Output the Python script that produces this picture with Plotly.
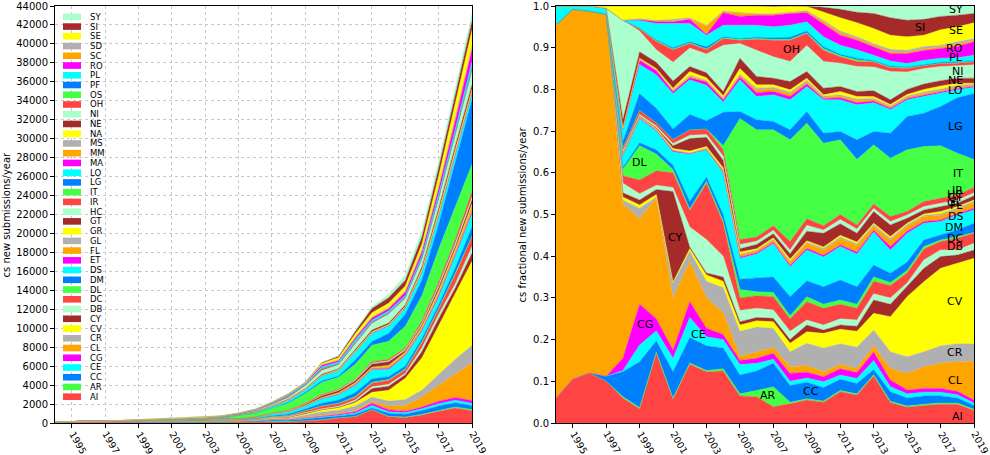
import numpy as np
import plotly.graph_objects as go

YEARS = list(range(1994, 2020))
TOTAL = [120, 180, 190, 200, 280, 350, 400, 440, 520, 600, 750, 1050, 1450, 2200,
         3100, 4300, 6400, 7100, 9800, 12300, 13600, 15600, 20300, 27600, 35400, 43200]

CATEGORIES = ["AI", "AR", "CC", "CE", "CG", "CL", "CR", "CV", "CY", "DB", "DC", "DL", "DM", "DS",
              "ET", "FL", "GL", "GR", "GT", "HC", "IR", "IT", "LG", "LO", "MA", "MM", "MS", "NA",
              "NE", "NI", "OH", "OS", "PF", "PL", "RO", "SC", "SD", "SE", "SI", "SY"]

# share of each year's submissions, percent (1994 ... 2019)
AI = [6, 10.5, 12, 10, 6, 3.4, 16.7, 5.7, 14.1, 12.3, 12.5, 6.5, 6.3, 3.9, 4.6, 5.5, 5, 7.5, 6.7, 11.3, 4.9, 3.8, 4.2, 4.5, 4.5, 3]
AR = [0, 0, 0, 0, .3, .3, .3, .3, .3, .3, .5, .5, 1.5, 4.8, .4, .3, .3, .3, .3, .3, .3, .3, .3, .3, .3, .3]
CC = [0, 0, 0, 1.2, 6, 11, 2.7, 6.3, 6.1, 5.9, 5, 4.5, 4.7, 5.6, 4, 4, 3.2, 2.7, 2.5, 1.2, 2.3, 1.9, 2, 1.7, 1.2, .9]
CE = [0, 0, 0, 0, .3, 4, 2.4, 3.2, 4.8, 2.2, 2, 2.5, 1.8, 1, 1, 1, 1.4, 1, 1.2, 2.2, 1.2, 1, .9, .9, .8, .6]
CG = [0, 0, 0, 0, 2.9, 9.8, 2.9, 2, 3.8, 2, 1.2, 1, 1.2, 1.4, 1.9, 1.4, 1.2, 1.5, 1.4, 2, 1.6, .9, .9, .9, .8, .7]
CL = [89.5, 88.7, 86.8, 86.8, 37, 20.5, 29, 12.5, 9.6, 7.3, 5.3, 1, 1.5, 1.4, 1.6, 1.5, 1.2, 1, 1, 1.5, 2.8, 4, 5.2, 6, 7.1, 9.2]
CR = [0, 0, 0, 0, 1, 2.5, .2, 3.5, 2.5, 4, 6, 6, 6, 4.6, 3.6, 5.4, 5.7, 5, 5.1, 3.8, 4, 4, 3.6, 4.2, 4.3, 4.3]
CV = [0, 0, 0, 0, .7, .8, .6, .3, .6, 1.5, 1.5, 1.5, 1.5, 1.6, 2, 2.8, 3.5, 3.5, 3.8, 4, 8.4, 14.4, 16.8, 18.6, 19.3, 20.5]
CY = [0, 0, 0, 0, 1, 1.2, 1.2, 21.7, .4, .5, 1, .8, .8, .8, .9, 1.6, .8, 1, 1.2, 3.2, 3, 2.4, 3.2, 2.8, 2, 2]
DB = [0, 0, 0, 0, 2.3, 1.5, 1, 1, 4.8, 8, 5, 2.7, 2.2, 2, 2, 1.2, 1.2, 1.5, 1.5, 1.5, 1.5, .9, 2, 1.6, 1.2, 1.6]
DC = [0, 0, 0, 0, 1.8, 3.3, 3.5, 3.5, 4, 13.5, 8, 3, 3, 3.2, 3, 4.4, 4, 3.5, 2.8, 3, 3, 2.4, 2.6, 2, 2.8, 2.4]
DL = [0, 0, 0, 0, 1.5, 8.2, 4, .8, .3, .5, .5, 2, 1, 1, .7, 1.2, 1, 1, 1, 1, .7, .6, .6, .4, .4, .2]
DM = [0, 0, 0, 0, .5, .7, 1, 1, 1.8, 1, 1.5, 2.5, 3.3, 3.7, 4.6, 3.8, 4.2, 4.8, 4.2, 2.9, 2.2, 2, 1.6, 1.2, 1.6, 2.2]
DS = [0, 0, 0, 0, 2.7, 5.8, 4.5, 3.2, 11.4, 6.5, 10, 5, 5.7, 8, 7.2, 7.4, 7.1, 8, 7.8, 7.9, 5.6, 6.9, 4, 3.2, 3.6, 3.2]
ET = [0, 0, 0, 0, .2, .2, .2, .2, .1, .1, .2, .3, .3, .3, .3, .4, .4, .4, .5, .4, .8, .5, .4, .4, .3, .4]
FL = [0, 0, 0, 0, .2, .1, .2, .2, .1, .2, .4, .5, .5, .6, .8, 1.2, 1.3, 1.5, 1.6, 1, 1.5, 1.2, 1.2, 1.1, 1, 1.2]
GL = [0, 0, 0, 0, .1, .1, .1, .1, .1, .1, .2, .2, .2, .2, .3, .3, .4, .4, .4, .4, .5, .4, .3, .4, .4, .5]
GR = [0, 0, 0, 0, .1, .1, .1, .3, .4, .4, .4, .5, .3, .3, .4, .3, .3, .4, .4, .3, .4, .3, .3, .5, .3, .3]
GT = [0, 0, 0, 0, .2, .1, .2, .7, 3, 2.2, 1.8, .8, 1, 1, 1.3, 2.3, 3.3, 2.8, 2.1, 2.8, 2.8, 1.2, 1, 1.2, .8, 1]
HC = [0, 0, 0, 0, .4, .4, .4, .5, .8, .7, 1, 1, .8, .8, .9, 1.4, .8, 1, 1, .8, .8, .8, .8, .8, .8, .7]
IR = [0, 0, 0, 0, .8, 1, .8, 1, 1.3, 1.3, 1.5, 1.2, 1, 1.1, 2, 1.6, 1, 1.2, 1, 1, 1.2, .8, 1.2, 1.2, 1.2, 1.3]
IT = [0, 0, 0, 0, 0, 0, 0, 0, 0, 0, 1, 29, 25.7, 23, 24.4, 22.9, 19.8, 17.9, 15.7, 14.2, 14, 14.8, 13.2, 12.6, 10, 6.7]
LG = [0, 0, 0, 0, 1.5, 4, 3.5, 2.5, 3.7, 2, 8, 1.7, 2.4, 2, 2.4, 2.8, 2.4, 2, 4.7, 3.2, 6, 8, 8, 9.4, 13.3, 15.8]
LO = [4.5, .8, 1.2, 1.5, 2.5, 7, 8, 8.5, 8.3, 8.5, 2.5, 7.6, 5.6, 6.4, 7.2, 6, 8, 7.6, 8.4, 6.9, 5.7, 4, 4, 3.1, 1.9, 1.5]
MA = [0, 0, 0, 0, .5, 1, 1, .5, .5, .8, .5, .7, .9, .8, .8, .6, .3, .5, .5, .4, .3, .3, .3, .3, .3, .2]
MM = [0, 0, 0, 0, .1, .2, .2, .2, .3, .2, .3, .4, .6, .6, .6, .5, .3, .4, .5, .4, .3, .3, .4, .4, .4, .3]
MS = [0, 0, 0, 0, .1, .1, .1, .2, .3, .2, .2, .3, .5, .4, .4, .4, .3, .3, .4, .3, .3, .3, .4, .4, .4, .3]
NA = [0, 0, 0, 0, .1, .2, .2, .4, .9, .6, .5, 1.3, .8, .6, .6, .5, .3, .8, .6, .4, .3, .4, .6, .7, .5, .2]
NE = [0, 0, 0, 0, 2, 1.5, 1.5, 1.7, 1.2, 1.2, 1, 2.5, 2, 1.6, 2, 1.6, 1.6, 1.2, 1.2, 1.4, 1.1, 1.2, 1.3, 1.3, 1.2, 1.2]
NI = [0, 0, 0, 0, 23.8, 5, 3, 4.5, 4.4, 4.5, 11.1, 3.5, 6.3, 5.1, 4.8, 6.2, 6.4, 5.6, 6, 5.7, 6.8, 4.2, 3.7, 3.4, 3, 3.2]
OH = [0, 0, 0, 0, 0, .5, 2, 3, 1.1, 1, 1.6, .8, 2.6, 4, 5.1, 2.9, 2.7, 1.5, 1.2, 1.2, .9, .8, .7, .7, .6, .7]
OS = [0, 0, 0, 0, 0, .1, .2, .2, .2, .2, .2, .2, .2, .2, .2, .2, .4, .3, .4, .1, .2, .2, .1, .1, .1, .1]
PF = [0, 0, 0, 0, 0, .1, .2, .3, .2, .5, .2, .2, .3, .4, .5, .4, .4, .3, .4, .2, .2, .2, .2, .2, .2, .2]
PL = [0, 0, 0, 0, 0, 1.8, 3.9, 5.8, 4.4, 2.8, 2.8, 3.2, 2.9, 2.6, 2.9, 2.2, 2.4, 2.2, 2, 1.3, 1.2, .8, 1, 1, 1, 1.3]
RO = [0, 0, 0, 0, 0, .2, .5, .4, 1, .2, 3, 2.1, 2.4, 2.8, 2.8, 2.2, 3.2, 2.4, 2.3, 2, 1.8, 2.4, 2.3, 2.3, 2.7, 3.2]
SC = [0, 0, 0, 0, 0, .1, .1, .2, .2, 2, .2, .8, .2, .2, .2, .2, .4, .5, .4, .4, .4, .3, .4, .4, .5, .3]
SD = [0, 0, 0, 0, 0, .2, .2, .4, .2, .2, .2, .2, .2, .2, .2, .3, .4, .5, .4, .4, .6, .5, .6, .4, .6, .5]
SE = [0, 0, 0, .5, 3.4, 3, 3.4, 3.2, 2.8, 4.6, 1.2, 1.5, 1.8, 1.6, 1.4, 1, 1.9, 3.2, 3.4, 3.6, 3.4, 3.2, 2.7, 3.7, 3.6, 3.8]
SI = [0, 0, 0, 0, 0, 0, 0, 0, 0, 0, 0, 0, 0, .1, 0, .1, 1.2, 2, 2.5, 3.6, 4.2, 4, 3.8, 3.2, 2.8, 2.2]
SY = [0, 0, 0, 0, 0, 0, 0, 0, 0, 0, 0, 0, 0, .1, 0, 0, .3, .8, 1.5, 1.8, 2.8, 3.4, 3.2, 2.5, 2.2, 1.8]

SHARES = [AI, AR, CC, CE, CG, CL, CR, CV, CY, DB, DC, DL, DM, DS, ET, FL, GL, GR, GT, HC,
          IR, IT, LG, LO, MA, MM, MS, NA, NE, NI, OH, OS, PF, PL, RO, SC, SD, SE, SI, SY]

X_TICKS = list(range(1995, 2020, 2))
Y_TICKS_ABS = list(range(0, 44001, 2000))
Y_TICKS_FRAC = [k / 10 for k in range(11)]

# labels drawn inside the fractional chart
INNER_LABELS = [("DL", 1999.0), ("CY", 2001.1), ("CG", 1999.3), ("CE", 2002.5),
                ("AR", 2006.7), ("CC", 2009.25), ("OH", 2008.1), ("SI", 2015.76)]
END_LABELS = ["SY", "SE", "RO", "PL", "NI", "NE", "LO", "LG", "IT", "IR", "HC", "GT", "GL",
              "FL", "DS", "DM", "DC", "DB", "CV", "CR", "CL", "AI"]

PALETTE = ["#ff4444", "#44ff44", "#0080ff", "#00ffff", "#ff00ff",
           "#ffa500", "#b0b0b0", "#ffff00", "#a52a2a", "#aaffcc"]

W, H = 990, 455
FONT = "DejaVu Sans"

counts = np.array(SHARES, dtype=float) / 100.0 * np.array(TOTAL, dtype=float)

fig = go.Figure()
for i, cat in enumerate(CATEGORIES):
    col = PALETTE[i % len(PALETTE)]
    fig.add_trace(go.Scatter(x=YEARS, y=counts[i], stackgroup="abs", mode="lines",
                             line=dict(width=0.4, color=col), fillcolor=col, name=cat,
                             xaxis="x", yaxis="y", showlegend=False, hoverinfo="skip"))
    kw = dict(groupnorm="fraction") if i == 0 else {}
    fig.add_trace(go.Scatter(x=YEARS, y=counts[i], stackgroup="frac", mode="lines",
                             line=dict(width=0.4, color=col), fillcolor=col, name=cat,
                             xaxis="x2", yaxis="y2", showlegend=False, hoverinfo="skip", **kw))

ydom = [1 - 423 / H, 1 - 6 / H]
common = dict(showline=True, mirror=True, linecolor="black", linewidth=1, ticks="outside",
              ticklen=4, tickcolor="black", zeroline=False, automargin=False,
              tickfont=dict(family=FONT, size=10, color="black"))
fig.update_layout(
    width=W, height=H, margin=dict(l=0, r=0, t=0, b=0),
    paper_bgcolor="white", plot_bgcolor="white",
    font=dict(family=FONT, color="black"),
    xaxis=dict(domain=[55 / W, 472 / W], range=[1994, 2019], tickvals=X_TICKS,
               showticklabels=False,
               showgrid=True, gridcolor="#c8c8c8", griddash="dot", gridwidth=1, **common),
    yaxis=dict(domain=ydom, range=[0, 44000], tickvals=Y_TICKS_ABS, tickformat="d",
               showgrid=True, gridcolor="#c8c8c8", griddash="dot", gridwidth=1, **common),
    xaxis2=dict(domain=[556 / W, 974 / W], range=[1994, 2019], tickvals=X_TICKS,
                showticklabels=False, showgrid=False, anchor="y2", **common),
    yaxis2=dict(domain=ydom, range=[0, 1], tickvals=Y_TICKS_FRAC, tickformat=".1f",
                showgrid=False, anchor="x2", **common),
)

annotations = []
shapes = []
# manual legend (top: SY ... bottom: AI)
for i, cat in enumerate(CATEGORIES):
    col = PALETTE[i % len(PALETTE)]
    yc = 396.7 - i * 9.74
    shapes.append(dict(type="rect", xref="paper", yref="paper", x0=63 / W, x1=81 / W,
                       y0=1 - (yc + 3.3) / H, y1=1 - (yc - 3.3) / H,
                       fillcolor=col, line=dict(width=0)))
    annotations.append(dict(xref="paper", yref="paper", x=88 / W, y=1 - yc / H, text=cat,
                            showarrow=False, xanchor="left", yanchor="middle",
                            font=dict(family=FONT, size=8.5, color="black")))

# rotated year tick labels
for xr in ("x", "x2"):
    for yr in X_TICKS:
        annotations.append(dict(xref=xr, yref="paper", x=yr, y=1 - 428 / H, text=str(yr),
                                textangle=60, showarrow=False, xanchor="left", yanchor="top",
                                xshift=-6, borderpad=0,
                                font=dict(family=FONT, size=9.5, color="black")))

# axis titles
annotations.append(dict(xref="paper", yref="paper", x=6 / W, y=1 - 214.5 / H,
                        text="cs new submissions/year", textangle=-90, showarrow=False,
                        xanchor="center", yanchor="middle",
                        font=dict(family=FONT, size=10, color="black")))
annotations.append(dict(xref="paper", yref="paper", x=522 / W, y=1 - 214.5 / H,
                        text="cs fractional new submissions/year", textangle=-90, showarrow=False,
                        xanchor="center", yanchor="middle",
                        font=dict(family=FONT, size=10, color="black")))

# band labels on the fractional chart, placed at the middle of each band
frac = counts / counts.sum(axis=0)
upper = np.cumsum(frac, axis=0)
mid = upper - frac / 2.0
idx = {c: k for k, c in enumerate(CATEGORIES)}
for cat, xv in INNER_LABELS:
    yv = float(np.interp(xv, YEARS, mid[idx[cat]]))
    annotations.append(dict(xref="x2", yref="y2", x=xv, y=yv, text=cat, showarrow=False,
                            xanchor="center", yanchor="middle",
                            font=dict(family=FONT, size=11, color="black")))
for cat in END_LABELS:
    yv = float(mid[idx[cat]][-1])
    annotations.append(dict(xref="x2", yref="y2", x=YEARS[-1], y=yv, text=cat, showarrow=False,
                            xanchor="right", yanchor="middle", xshift=-9,
                            font=dict(family=FONT, size=11, color="black")))

fig.update_layout(annotations=annotations, shapes=shapes)
fig.write_html("out.html", config={"displayModeBar": False},
               post_script="document.body.style.margin='0';")
